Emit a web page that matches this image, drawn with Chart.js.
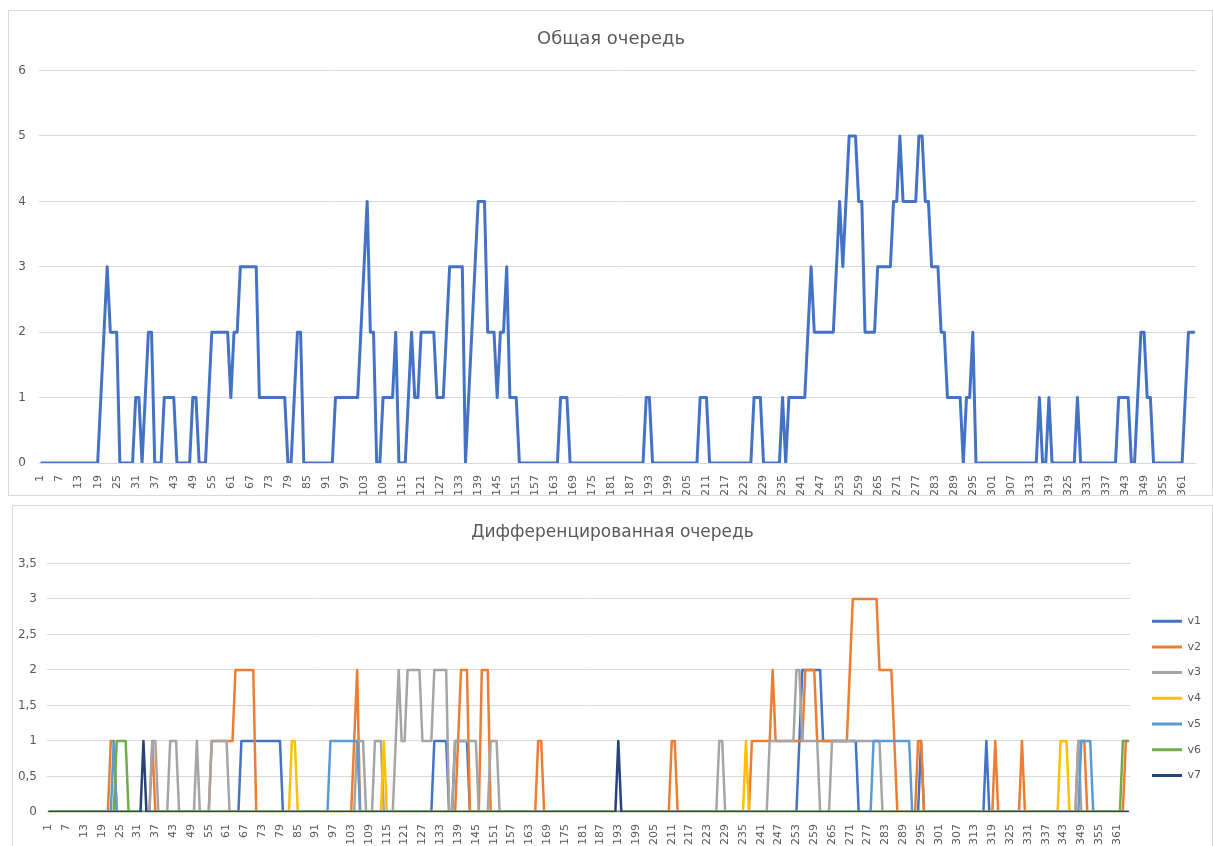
<!DOCTYPE html>
<html lang="ru">
<head>
<meta charset="utf-8">
<title>Очередь</title>
<script src="https://cdn.jsdelivr.net/npm/chart.js@4.4.1/dist/chart.umd.min.js"></script>
<style>
  body { margin: 0; width: 1213px; height: 846px; overflow: hidden; background: #fff; position: relative; }
  .panel { position: absolute; border: 1px solid #d9d9d9; background: #fff; }
  #totalPanel { left: 8px; top: 10px; width: 1203px; height: 484px; }
  #typePanel { left: 12px; top: 505px; width: 1199px; height: 340px; }
  canvas { display: block; }
</style>
</head>
<body>
<div class="panel" id="totalPanel"><canvas id="totalChart"></canvas></div>
<div class="panel" id="typePanel"><canvas id="typeChart"></canvas></div>
<script>
// days 1..365
const days = Array.from({ length: 365 }, (_, i) => String(i + 1));

// общая очередь
const totalQueue = [
  0,0,0,0,0,0,0,0,0,0,0,0,0,0,0,0,0,0,0,1,
  2,3,2,2,2,0,0,0,0,0,1,1,0,1,2,2,0,0,0,1,
  1,1,1,0,0,0,0,0,1,1,0,0,0,1,2,2,2,2,2,2,
  1,2,2,3,3,3,3,3,3,1,1,1,1,1,1,1,1,1,0,0,
  1,2,2,0,0,0,0,0,0,0,0,0,0,1,1,1,1,1,1,1,
  1,2,3,4,2,2,0,0,1,1,1,1,2,0,0,0,1,2,1,1,
  2,2,2,2,2,1,1,1,2,3,3,3,3,3,0,1,2,3,4,4,
  4,2,2,2,1,2,2,3,1,1,1,0,0,0,0,0,0,0,0,0,
  0,0,0,0,1,1,1,0,0,0,0,0,0,0,0,0,0,0,0,0,
  0,0,0,0,0,0,0,0,0,0,0,1,1,0,0,0,0,0,0,0,
  0,0,0,0,0,0,0,0,1,1,1,0,0,0,0,0,0,0,0,0,
  0,0,0,0,0,1,1,1,0,0,0,0,0,0,1,0,1,1,1,1,
  1,1,2,3,2,2,2,2,2,2,2,3,4,3,4,5,5,5,4,4,
  2,2,2,2,3,3,3,3,3,4,4,5,4,4,4,4,4,5,5,4,
  4,3,3,3,2,2,1,1,1,1,1,0,1,1,2,0,0,0,0,0,
  0,0,0,0,0,0,0,0,0,0,0,0,0,0,0,1,0,0,1,0,
  0,0,0,0,0,0,0,1,0,0,0,0,0,0,0,0,0,0,0,0,
  1,1,1,1,0,0,1,2,2,1,1,0,0,0,0,0,0,0,0,0,
  0,1,2,2,2
];

// дифференцированная очередь, v1..v7
const v1 = [
  0,0,0,0,0,0,0,0,0,0,0,0,0,0,0,0,0,0,0,0,
  0,0,0,0,0,0,0,0,0,0,0,0,0,0,0,0,0,0,0,0,
  0,0,0,0,0,0,0,0,0,0,0,0,0,0,0,0,0,0,0,0,
  0,0,0,0,0,1,1,1,1,1,1,1,1,1,1,1,1,1,1,0,
  0,0,0,0,0,0,0,0,0,0,0,0,0,0,0,0,0,0,0,0,
  0,0,0,0,0,0,0,0,0,0,0,0,0,0,0,0,0,0,0,0,
  0,0,0,0,0,0,0,0,0,0,1,1,1,1,1,0,0,1,1,1,
  1,1,0,0,0,0,0,0,0,0,0,0,0,0,0,0,0,0,0,0,
  0,0,0,0,0,0,0,0,0,0,0,0,0,0,0,0,0,0,0,0,
  0,0,0,0,0,0,0,0,0,0,0,0,0,0,0,0,0,0,0,0,
  0,0,0,0,0,0,0,0,0,0,0,0,0,0,0,0,0,0,0,0,
  0,0,0,0,0,0,0,0,0,0,0,0,0,0,0,0,0,0,0,0,
  0,0,0,0,0,0,0,0,0,0,0,0,0,1,2,2,2,2,2,2,
  2,1,1,1,1,1,1,1,1,1,1,1,1,0,0,0,0,0,0,0,
  0,0,0,0,0,0,0,0,0,0,0,0,0,0,1,0,0,0,0,0,
  0,0,0,0,0,0,0,0,0,0,0,0,0,0,0,0,1,0,0,0,
  0,0,0,0,0,0,0,0,0,0,0,0,0,0,0,0,0,0,0,0,
  0,0,0,0,0,0,0,0,0,0,0,0,0,0,0,0,0,0,0,0,
  0,0,0,0,0
];
const v2 = [
  0,0,0,0,0,0,0,0,0,0,0,0,0,0,0,0,0,0,0,0,
  0,1,1,0,0,0,0,0,0,0,0,0,0,0,0,1,0,0,0,0,
  0,0,0,0,0,0,0,0,0,0,0,0,0,0,0,1,1,1,1,1,
  1,1,1,2,2,2,2,2,2,2,0,0,0,0,0,0,0,0,0,0,
  0,0,0,0,0,0,0,0,0,0,0,0,0,0,0,0,0,0,0,0,
  0,0,0,1,2,0,0,0,0,0,0,0,0,0,0,0,0,0,0,0,
  0,0,0,0,0,0,0,0,0,0,0,0,0,0,0,0,0,0,1,2,
  2,2,0,0,0,0,2,2,2,0,0,0,0,0,0,0,0,0,0,0,
  0,0,0,0,0,1,1,0,0,0,0,0,0,0,0,0,0,0,0,0,
  0,0,0,0,0,0,0,0,0,0,0,0,0,0,0,0,0,0,0,0,
  0,0,0,0,0,0,0,0,0,0,1,1,0,0,0,0,0,0,0,0,
  0,0,0,0,0,0,0,0,0,0,0,0,0,0,0,0,0,1,1,1,
  1,1,1,1,2,1,1,1,1,1,1,1,1,1,1,2,2,2,2,1,
  1,1,1,1,1,1,1,1,1,1,2,3,3,3,3,3,3,3,3,3,
  2,2,2,2,2,1,0,0,0,0,0,0,0,1,1,0,0,0,0,0,
  0,0,0,0,0,0,0,0,0,0,0,0,0,0,0,0,0,0,0,1,
  0,0,0,0,0,0,0,0,1,0,0,0,0,0,0,0,0,0,0,0,
  0,0,0,0,0,0,0,1,1,1,0,0,0,0,0,0,0,0,0,0,
  0,0,0,1,1
];
const v3 = [
  0,0,0,0,0,0,0,0,0,0,0,0,0,0,0,0,0,0,0,0,
  0,0,0,0,0,0,0,0,0,0,0,0,0,0,0,1,1,0,0,0,
  0,1,1,1,0,0,0,0,0,0,1,0,0,0,0,1,1,1,1,1,
  1,0,0,0,0,0,0,0,0,0,0,0,0,0,0,0,0,0,0,0,
  0,0,0,0,0,0,0,0,0,0,0,0,0,0,0,0,0,0,0,0,
  0,0,0,0,1,1,1,0,0,0,1,1,1,0,0,0,0,1,2,1,
  1,2,2,2,2,2,1,1,1,1,2,2,2,2,2,0,0,1,1,1,
  1,1,1,1,1,0,0,0,0,1,1,1,0,0,0,0,0,0,0,0,
  0,0,0,0,0,0,0,0,0,0,0,0,0,0,0,0,0,0,0,0,
  0,0,0,0,0,0,0,0,0,0,0,0,0,0,0,0,0,0,0,0,
  0,0,0,0,0,0,0,0,0,0,0,0,0,0,0,0,0,0,0,0,
  0,0,0,0,0,0,1,1,0,0,0,0,0,0,0,0,0,0,0,0,
  0,0,0,1,1,1,1,1,1,1,1,1,2,2,1,1,1,1,1,1,
  0,0,0,0,1,1,1,1,1,1,1,1,1,1,1,1,1,1,1,1,
  1,0,0,0,0,0,0,0,0,0,0,0,0,0,0,0,0,0,0,0,
  0,0,0,0,0,0,0,0,0,0,0,0,0,0,0,0,0,0,0,0,
  0,0,0,0,0,0,0,0,0,0,0,0,0,0,0,0,0,0,0,0,
  0,0,0,0,0,0,0,1,0,0,0,0,0,0,0,0,0,0,0,0,
  0,0,0,0,0
];
const v4 = [
  0,0,0,0,0,0,0,0,0,0,0,0,0,0,0,0,0,0,0,0,
  0,0,0,0,0,0,0,0,0,0,0,0,0,0,0,0,0,0,0,0,
  0,0,0,0,0,0,0,0,0,0,0,0,0,0,0,0,0,0,0,0,
  0,0,0,0,0,0,0,0,0,0,0,0,0,0,0,0,0,0,0,0,
  0,0,1,1,0,0,0,0,0,0,0,0,0,0,0,0,0,0,0,0,
  0,0,0,0,0,0,0,0,0,0,0,0,0,1,0,0,0,0,0,0,
  0,0,0,0,0,0,0,0,0,0,0,0,0,0,0,0,0,0,0,0,
  0,0,0,0,0,0,0,0,0,0,0,0,0,0,0,0,0,0,0,0,
  0,0,0,0,0,0,0,0,0,0,0,0,0,0,0,0,0,0,0,0,
  0,0,0,0,0,0,0,0,0,0,0,0,0,0,0,0,0,0,0,0,
  0,0,0,0,0,0,0,0,0,0,0,0,0,0,0,0,0,0,0,0,
  0,0,0,0,0,0,0,0,0,0,0,0,0,0,0,1,0,0,0,0,
  0,0,0,0,0,0,0,0,0,0,0,0,0,0,0,0,0,0,0,0,
  0,0,0,0,0,0,0,0,0,0,0,0,0,0,0,0,0,0,0,0,
  0,0,0,0,0,0,0,0,0,0,0,0,0,0,0,0,0,0,0,0,
  0,0,0,0,0,0,0,0,0,0,0,0,0,0,0,0,0,0,0,0,
  0,0,0,0,0,0,0,0,0,0,0,0,0,0,0,0,0,0,0,0,
  0,1,1,1,0,0,0,0,0,0,0,0,0,0,0,0,0,0,0,0,
  0,0,0,0,0
];
const v5 = [
  0,0,0,0,0,0,0,0,0,0,0,0,0,0,0,0,0,0,0,0,
  0,0,1,0,0,0,0,0,0,0,0,0,0,0,0,0,0,0,0,0,
  0,0,0,0,0,0,0,0,0,0,0,0,0,0,0,0,0,0,0,0,
  0,0,0,0,0,0,0,0,0,0,0,0,0,0,0,0,0,0,0,0,
  0,0,0,0,0,0,0,0,0,0,0,0,0,0,0,1,1,1,1,1,
  1,1,1,1,1,0,0,0,0,0,0,0,0,0,0,0,0,0,0,0,
  0,0,0,0,0,0,0,0,0,0,0,0,0,0,0,0,0,0,0,0,
  0,0,0,0,0,0,0,0,0,0,0,0,0,0,0,0,0,0,0,0,
  0,0,0,0,0,0,0,0,0,0,0,0,0,0,0,0,0,0,0,0,
  0,0,0,0,0,0,0,0,0,0,0,0,0,0,0,0,0,0,0,0,
  0,0,0,0,0,0,0,0,0,0,0,0,0,0,0,0,0,0,0,0,
  0,0,0,0,0,0,0,0,0,0,0,0,0,0,0,0,0,0,0,0,
  0,0,0,0,0,0,0,0,0,0,0,0,0,0,0,0,0,0,0,0,
  0,0,0,0,0,0,0,0,0,0,0,0,0,0,0,0,0,0,1,1,
  1,1,1,1,1,1,1,1,1,1,1,0,0,0,0,0,0,0,0,0,
  0,0,0,0,0,0,0,0,0,0,0,0,0,0,0,0,0,0,0,0,
  0,0,0,0,0,0,0,0,0,0,0,0,0,0,0,0,0,0,0,0,
  0,0,0,0,0,0,0,0,1,1,1,1,0,0,0,0,0,0,0,0,
  0,0,0,0,0
];
const v6 = [
  0,0,0,0,0,0,0,0,0,0,0,0,0,0,0,0,0,0,0,0,
  0,0,0,1,1,1,1,0,0,0,0,0,0,0,0,0,0,0,0,0,
  0,0,0,0,0,0,0,0,0,0,0,0,0,0,0,0,0,0,0,0,
  0,0,0,0,0,0,0,0,0,0,0,0,0,0,0,0,0,0,0,0,
  0,0,0,0,0,0,0,0,0,0,0,0,0,0,0,0,0,0,0,0,
  0,0,0,0,0,0,0,0,0,0,0,0,0,0,0,0,0,0,0,0,
  0,0,0,0,0,0,0,0,0,0,0,0,0,0,0,0,0,0,0,0,
  0,0,0,0,0,0,0,0,0,0,0,0,0,0,0,0,0,0,0,0,
  0,0,0,0,0,0,0,0,0,0,0,0,0,0,0,0,0,0,0,0,
  0,0,0,0,0,0,0,0,0,0,0,0,0,0,0,0,0,0,0,0,
  0,0,0,0,0,0,0,0,0,0,0,0,0,0,0,0,0,0,0,0,
  0,0,0,0,0,0,0,0,0,0,0,0,0,0,0,0,0,0,0,0,
  0,0,0,0,0,0,0,0,0,0,0,0,0,0,0,0,0,0,0,0,
  0,0,0,0,0,0,0,0,0,0,0,0,0,0,0,0,0,0,0,0,
  0,0,0,0,0,0,0,0,0,0,0,0,0,0,0,0,0,0,0,0,
  0,0,0,0,0,0,0,0,0,0,0,0,0,0,0,0,0,0,0,0,
  0,0,0,0,0,0,0,0,0,0,0,0,0,0,0,0,0,0,0,0,
  0,0,0,0,0,0,0,0,0,0,0,0,0,0,0,0,0,0,0,0,
  0,0,1,1,1
];
const v7 = [
  0,0,0,0,0,0,0,0,0,0,0,0,0,0,0,0,0,0,0,0,
  0,0,0,0,0,0,0,0,0,0,0,0,1,0,0,0,0,0,0,0,
  0,0,0,0,0,0,0,0,0,0,0,0,0,0,0,0,0,0,0,0,
  0,0,0,0,0,0,0,0,0,0,0,0,0,0,0,0,0,0,0,0,
  0,0,0,0,0,0,0,0,0,0,0,0,0,0,0,0,0,0,0,0,
  0,0,0,0,0,0,0,0,0,0,0,0,0,0,0,0,0,0,0,0,
  0,0,0,0,0,0,0,0,0,0,0,0,0,0,0,0,0,0,0,0,
  0,0,0,0,0,0,0,0,0,0,0,0,0,0,0,0,0,0,0,0,
  0,0,0,0,0,0,0,0,0,0,0,0,0,0,0,0,0,0,0,0,
  0,0,0,0,0,0,0,0,0,0,0,0,1,0,0,0,0,0,0,0,
  0,0,0,0,0,0,0,0,0,0,0,0,0,0,0,0,0,0,0,0,
  0,0,0,0,0,0,0,0,0,0,0,0,0,0,0,0,0,0,0,0,
  0,0,0,0,0,0,0,0,0,0,0,0,0,0,0,0,0,0,0,0,
  0,0,0,0,0,0,0,0,0,0,0,0,0,0,0,0,0,0,0,0,
  0,0,0,0,0,0,0,0,0,0,0,0,0,0,0,0,0,0,0,0,
  0,0,0,0,0,0,0,0,0,0,0,0,0,0,0,0,0,0,0,0,
  0,0,0,0,0,0,0,0,0,0,0,0,0,0,0,0,0,0,0,0,
  0,0,0,0,0,0,0,0,0,0,0,0,0,0,0,0,0,0,0,0,
  0,0,0,0,0
];

const seriesNames = ['v1', 'v2', 'v3', 'v4', 'v5', 'v6', 'v7'];
const seriesData = [v1, v2, v3, v4, v5, v6, v7];
const seriesColors = ['#4472C4', '#ED7D31', '#A5A5A5', '#FFC000', '#5B9BD5', '#70AD47', '#264478'];

Chart.defaults.font.family = '"DejaVu Sans", sans-serif';
Chart.defaults.color = '#595959';

const everySixth = (value, index) => index % 6 === 0 ? days[index] : '';

// small horizontal shifts of title / legend to sit where the source has them
const nudge = {
  id: 'nudge',
  afterLayout(chart, args, opts) {
    if (chart.titleBlock && opts.title) {
      chart.titleBlock.left += opts.title;
      chart.titleBlock.right += opts.title;
    }
    if (chart.legend && opts.legend) {
      chart.legend.left += opts.legend;
      chart.legend.right += opts.legend;
    }
  }
};

new Chart(document.getElementById('totalChart'), {
  type: 'line',
  data: {
    labels: days,
    datasets: [{
      label: 'Общая очередь',
      data: totalQueue,
      borderColor: '#4472C4',
      borderWidth: 3,
      borderJoinStyle: 'round',
      pointRadius: 0,
      tension: 0,
    }]
  },
  options: {
    responsive: true,
    maintainAspectRatio: false,
    animation: false,
    events: [],
    layout: { padding: { left: 0, right: 15, top: 0, bottom: 0 } },
    plugins: {
      nudge: { title: 8 },
      legend: { display: false },
      tooltip: { enabled: false },
      title: {
        display: true,
        text: 'Общая очередь',
        color: '#595959',
        font: { size: 18, weight: 'normal' },
        padding: { top: 18, bottom: 20 },
      },
    },
    scales: {
      x: {
        offset: true,
        grid: { display: false },
        border: { display: false },
        ticks: { autoSkip: false, minRotation: 90, maxRotation: 90, padding: 4, font: { size: 11 }, callback: everySixth },
        afterFit: scale => { scale.height = 32; },
      },
      y: {
        min: 0,
        max: 6,
        grid: { color: '#d9d9d9', drawTicks: false },
        border: { display: false },
        ticks: { stepSize: 1, padding: 13, font: { size: 12 } },
        afterFit: scale => { scale.width = 30; },
      },
    },
  },
  plugins: [nudge]
});

new Chart(document.getElementById('typeChart'), {
  type: 'line',
  data: {
    labels: days,
    datasets: seriesNames.map((name, i) => ({
      label: name,
      data: seriesData[i],
      borderColor: seriesColors[i],
      backgroundColor: seriesColors[i],
      pointBorderColor: seriesColors[i],
      pointBorderWidth: 3,
      borderWidth: 2.5,
      borderJoinStyle: 'round',
      pointRadius: 0,
      tension: 0,
      order: 7 - i, // later series drawn on top, as in the source
    }))
  },
  options: {
    responsive: true,
    maintainAspectRatio: false,
    animation: false,
    events: [],
    layout: { padding: { left: 0, right: 8, top: 0, bottom: 0 } },
    plugins: {
      nudge: { title: 4, legend: 7 },
      tooltip: { enabled: false },
      title: {
        display: true,
        text: 'Дифференцированная очередь',
        color: '#595959',
        font: { size: 17, weight: 'normal' },
        padding: { top: 16, bottom: 21 },
      },
      legend: {
        position: 'right',
        fullSize: false,
        title: { display: true, text: ' ', font: { size: 11 }, padding: 4 },
        labels: {
          usePointStyle: true,
          pointStyle: 'line',
          pointStyleWidth: 30,
          padding: 14.7,
          color: '#595959',
          font: { size: 11 },
          sort: (a, b) => a.datasetIndex - b.datasetIndex,
        },
      },
    },
    scales: {
      x: {
        offset: true,
        grid: { display: false },
        border: { display: false },
        ticks: { autoSkip: false, minRotation: 90, maxRotation: 90, padding: 4, font: { size: 11 }, callback: everySixth },
        afterFit: scale => { scale.height = 34; },
      },
      y: {
        min: 0,
        max: 3.5,
        grid: { color: '#d9d9d9', drawTicks: false },
        border: { display: false },
        ticks: { stepSize: 0.5, padding: 10, font: { size: 12 }, callback: v => String(v).replace('.', ',') },
        afterFit: scale => { scale.width = 34; },
      },
    },
  },
  plugins: [nudge]
});
</script>
</body>
</html>
